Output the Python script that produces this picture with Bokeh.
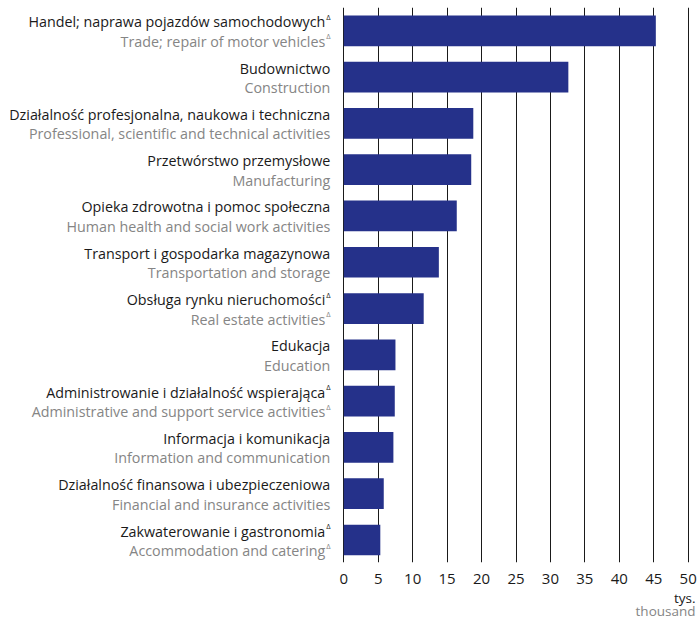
from bokeh.plotting import figure
from bokeh.layouts import column
from bokeh.models import Range1d, FixedTicker, ColumnDataSource
from bokeh.core.properties import value
from bokeh.embed import file_html
from bokeh.resources import INLINE

# ---- data ----
labels_pl = [
    "Handel; naprawa pojazdów samochodowych",
    "Budownictwo",
    "Działalność profesjonalna, naukowa i techniczna",
    "Przetwórstwo przemysłowe",
    "Opieka zdrowotna i pomoc społeczna",
    "Transport i gospodarka magazynowa",
    "Obsługa rynku nieruchomości",
    "Edukacja",
    "Administrowanie i działalność wspierająca",
    "Informacja i komunikacja",
    "Działalność finansowa i ubezpieczeniowa",
    "Zakwaterowanie i gastronomia",
]
labels_en = [
    "Trade; repair of motor vehicles",
    "Construction",
    "Professional, scientific and technical activities",
    "Manufacturing",
    "Human health and social work activities",
    "Transportation and storage",
    "Real estate activities",
    "Education",
    "Administrative and support service activities",
    "Information and communication",
    "Financial and insurance activities",
    "Accommodation and catering",
]
delta_mark = [True, False, False, False, False, False, True, False, True, False, False, True]
values = [45.3, 32.6, 18.8, 18.5, 16.4, 13.8, 11.6, 7.5, 7.4, 7.2, 5.8, 5.3]
x_ticks = [0, 5, 10, 15, 20, 25, 30, 35, 40, 45, 50]
unit_pl = "tys."
unit_en = "thousand"

# ---- layout constants ----
W = 697
H1 = 588          # main chart height
H2 = 31           # unit caption strip height
TOP = 7
FRAME_H = 555
PX_PER_UNIT = 6.888
ZERO_PX = 343.3
X_START = -ZERO_PX / PX_PER_UNIT
X_END = (W - ZERO_PX) / PX_PER_UNIT
Y_START, Y_END = -0.486, 11.503

BAR = "#25318A"
FONT = "Open Sans"
FS = "14.3px"
GREY = "#858585"
BLACK = "#1a1a1a"

n = len(values)
ypos = [n - 1 - i for i in range(n)]

src = ColumnDataSource(dict(
    y=ypos, v=values, pl=labels_pl, en=labels_en,
    xo=[-18.5 if d else -13.5 for d in delta_mark],
))

p = figure(width=W, height=H1, output_backend="svg", toolbar_location=None,
           x_range=Range1d(X_START, X_END), y_range=Range1d(Y_START, Y_END),
           y_axis_location=None, min_border_left=0, min_border_right=0,
           min_border_top=TOP, min_border_bottom=H1 - TOP - FRAME_H)
p.outline_line_color = None
p.background_fill_color = "white"
p.border_fill_color = "white"

p.ygrid.visible = False
p.xgrid.ticker = FixedTicker(ticks=x_ticks)
p.xgrid.grid_line_color = BLACK
p.xgrid.grid_line_width = 1

ax = p.xaxis[0]
ax.ticker = FixedTicker(ticks=x_ticks)
ax.axis_line_color = None
ax.major_tick_line_color = None
ax.minor_tick_line_color = None
ax.major_label_standoff = 5
ax.major_label_text_font = FONT
ax.major_label_text_font_size = "15px"
ax.major_label_text_color = BLACK

p.hbar(y="y", left=0, right="v", height=0.663, source=src,
       fill_color=BAR, line_color=None)

p.text(x=0, y="y", text="pl", source=src, x_offset="xo", y_offset=-9,
       text_align="right", text_baseline="alphabetic",
       text_font=value(FONT), text_font_size=FS, text_color=BLACK)
p.text(x=0, y="y", text="en", source=src, x_offset="xo", y_offset=10.5,
       text_align="right", text_baseline="alphabetic",
       text_font=value(FONT), text_font_size=FS, text_color=GREY)

dsrc = ColumnDataSource(dict(
    y=[ypos[i] for i in range(n) if delta_mark[i]],
))
p.text(x=0, y="y", text=value("Δ"), source=dsrc, x_offset=-13.3, y_offset=-14,
       text_align="right", text_baseline="alphabetic",
       text_font=value(FONT), text_font_size="7.5px", text_color=BLACK)
p.text(x=0, y="y", text=value("Δ"), source=dsrc, x_offset=-13.3, y_offset=5.5,
       text_align="right", text_baseline="alphabetic",
       text_font=value(FONT), text_font_size="7.5px", text_color=GREY)

# ---- unit caption strip (pixel-space figure) ----
p2 = figure(width=W, height=H2, output_backend="svg", toolbar_location=None,
            x_range=Range1d(0, W), y_range=Range1d(0, H2),
            x_axis_location=None, y_axis_location=None,
            min_border=0, min_border_left=0, min_border_right=0,
            min_border_top=0, min_border_bottom=0)
p2.outline_line_color = None
p2.grid.visible = False
p2.background_fill_color = "white"
p2.border_fill_color = "white"
p2.text(x=[W - 2], y=[H2 - 9], text=[unit_pl], text_align="right",
        text_baseline="alphabetic", text_font=value(FONT),
        text_font_size="13.5px", text_color=BLACK)
p2.text(x=[W - 2], y=[H2 - 22], text=[unit_en], text_align="right",
        text_baseline="alphabetic", text_font=value(FONT),
        text_font_size="13.5px", text_color=GREY)

layout = column(p, p2, spacing=0)
open("out.html", "w").write(file_html(layout, INLINE))
